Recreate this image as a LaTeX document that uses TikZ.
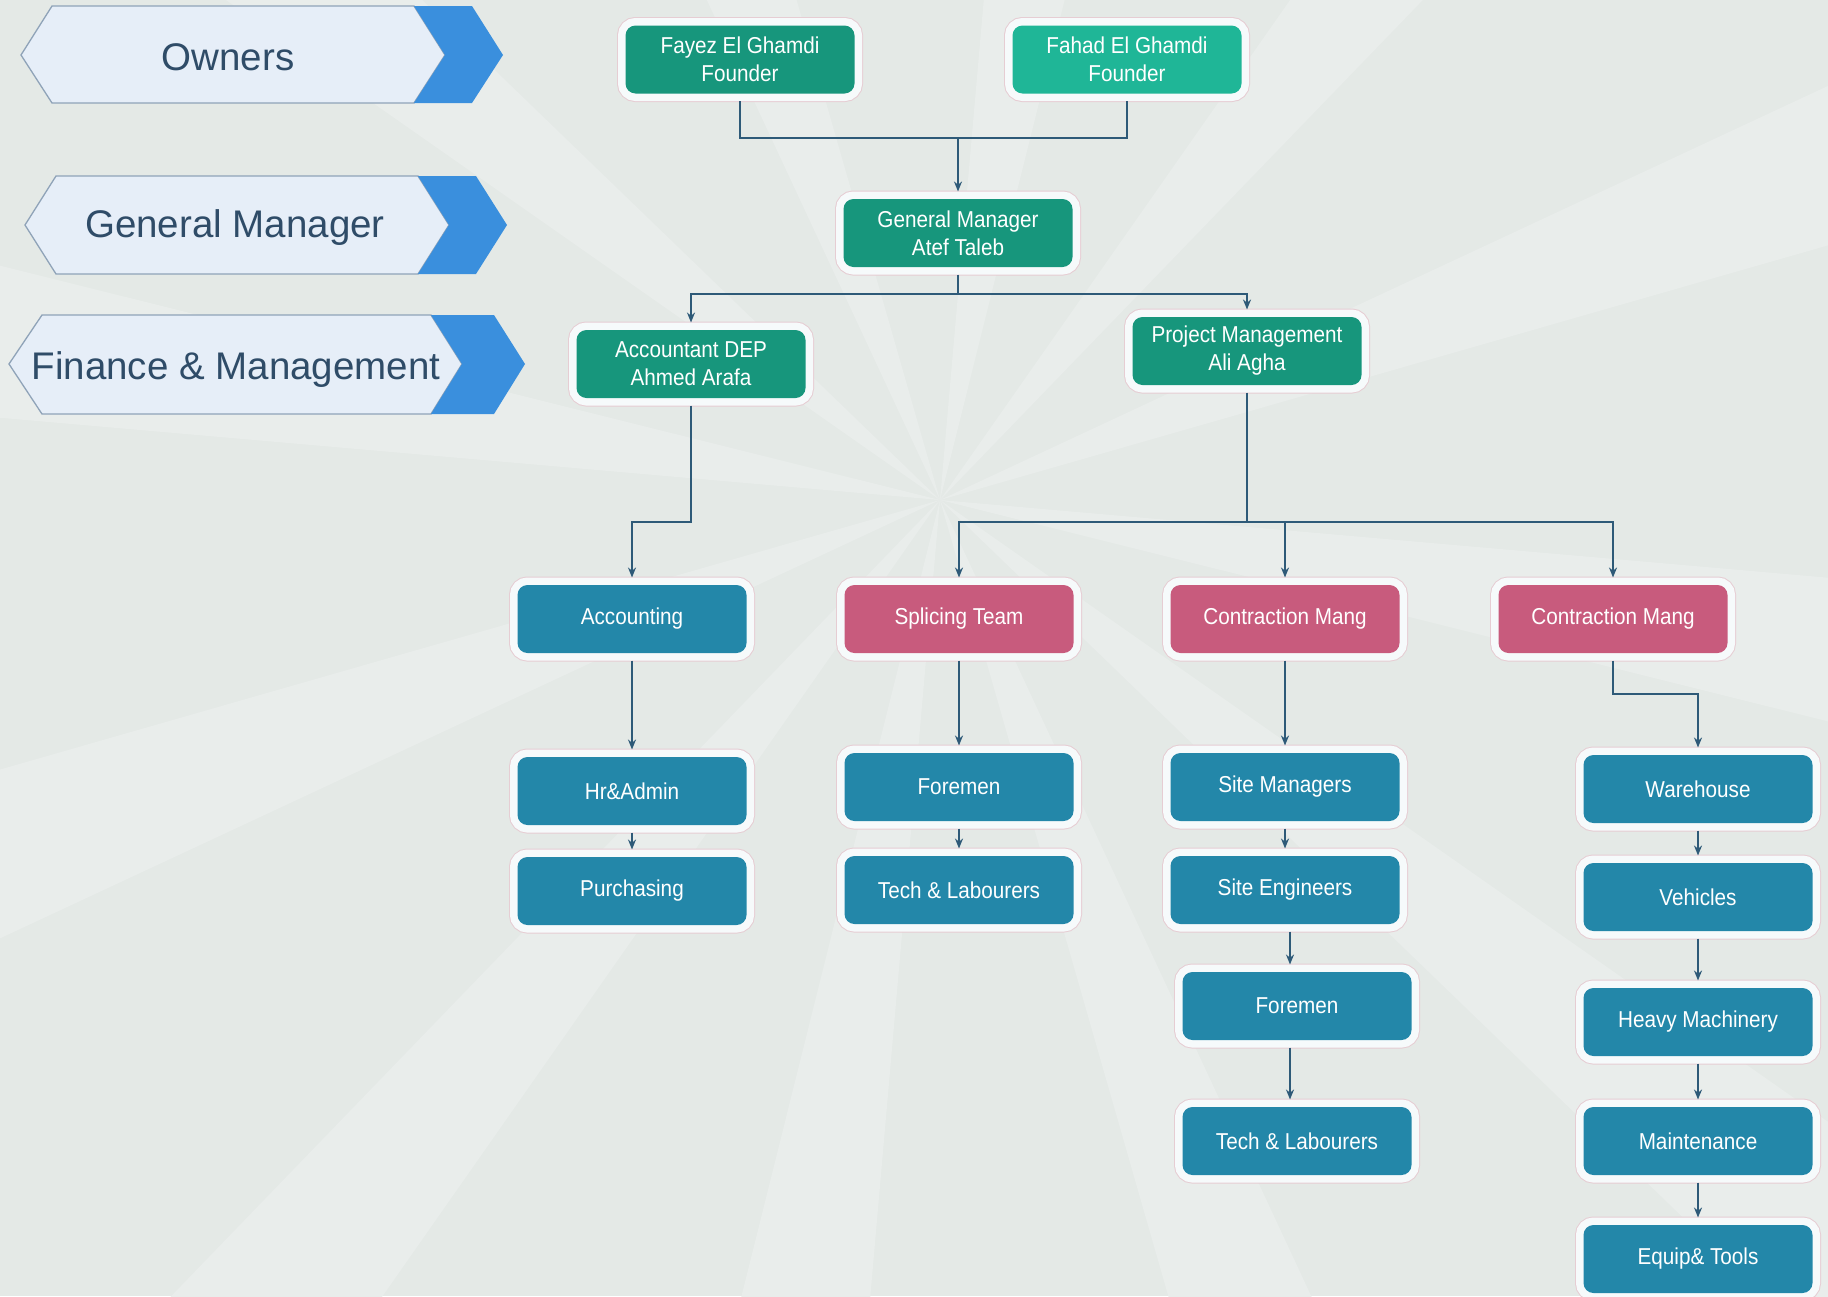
\documentclass[tikz,border=0pt]{standalone}
\usepackage{fontspec}
\setmainfont{Liberation Sans}
\newfontfamily\boxfont[FakeStretch=0.9]{Liberation Sans}
\usetikzlibrary{arrows.meta}
\definecolor{bg}{HTML}{E4E9E6}
\definecolor{ray}{HTML}{E9EDEB}
\definecolor{tealdk}{HTML}{17967C}
\definecolor{teallt}{HTML}{1FB697}
\definecolor{bluebox}{HTML}{2387A9}
\definecolor{pinkbox}{HTML}{C85B7D}
\definecolor{halo}{HTML}{F6FAFB}
\definecolor{haloedge}{HTML}{E6CDD3}
\definecolor{conn}{HTML}{2E5A78}
\definecolor{chevfill}{HTML}{E6EEF8}
\definecolor{chevedge}{HTML}{8FA3B8}
\definecolor{chevblue}{HTML}{3A8FDD}
\definecolor{chevtext}{HTML}{2F4C68}
\begin{document}
\begin{tikzpicture}[x=1pt,y=-1pt,
  orgbox/.style={rectangle, rounded corners=10pt, minimum width=229pt, minimum height=68pt,
    inner sep=0pt, outer sep=7.5pt, align=center, text=white,
    font=\boxfont\fontsize{23}{28}\selectfont,
    preaction={draw=haloedge, line width=17pt},
    preaction={draw=halo, line width=15pt}},
  tealA/.style={orgbox, fill=tealdk},
  tealB/.style={orgbox, fill=teallt},
  blu/.style={orgbox, fill=bluebox},
  pnk/.style={orgbox, fill=pinkbox},
  line/.style={draw=conn, line width=2pt},
  arr/.style={line, -{Stealth[length=10pt,width=8pt]}},
  chevlabel/.style={anchor=base, text=chevtext, font=\fontsize{38.5}{40}\selectfont, inner sep=0pt},
  chevlight/.style={fill=chevfill, draw=chevedge, line width=1.3pt},
  chevdark/.style={fill=chevblue}
]
\useasboundingbox (0,0) rectangle (1828,1296);
\fill[bg] (0,0) rectangle (1828,1296);
\begin{scope}
\clip (0,0) rectangle (1828,1296);
\foreach \a in {5,35,...,335} {
  \fill[ray] (940,500) -- +(\a:2600) -- +(\a+9:2600) -- cycle;
}
\end{scope}

% chevrons
\path[chevlight] (52,6) -- (414,6) -- (445,55) -- (414,103) -- (52,103) -- (21,55) -- cycle;
\path[chevdark] (414,6) -- (472,6) -- (503,55) -- (472,103) -- (414,103) -- (445,55) -- cycle;
\node[chevlabel] (owners) at (228,70) {Owners};

\path[chevlight] (56,176) -- (418,176) -- (449,225) -- (418,274) -- (56,274) -- (25,225) -- cycle;
\path[chevdark] (418,176) -- (476,176) -- (507,225) -- (476,274) -- (418,274) -- (449,225) -- cycle;
\node[chevlabel] (gmlabel) at (235,237) {General Manager};

\path[chevlight] (42,315) -- (431,315) -- (462,364) -- (431,414) -- (42,414) -- (9,364) -- cycle;
\path[chevdark] (431,315) -- (494,315) -- (525,364) -- (494,414) -- (431,414) -- (462,364) -- cycle;
\node[chevlabel] (fmlabel) at (236,379) {Finance \& Management};

% org nodes
\node[tealA] (fayez) at (740,59.5) {Fayez El Ghamdi\\Founder};
\node[tealB] (fahad) at (1127,59.5) {Fahad El Ghamdi\\Founder};
\node[tealA] (gm) at (958,233) {General Manager\\Atef Taleb};
\node[tealA] (acct) at (691,364) {Accountant DEP\\Ahmed Arafa};
\node[tealA] (proj) at (1247,351) {Project Management\\Ali Agha};

\node[blu] (accounting) at (632,619) {Accounting};
\node[pnk] (splice) at (959,619) {Splicing Team};
\node[pnk] (cm1) at (1285,619) {Contraction Mang};
\node[pnk] (cm2) at (1613,619) {Contraction Mang};

\node[blu] (hr) at (632,791) {Hr\&Admin};
\node[blu] (purch) at (632,891) {Purchasing};
\node[blu] (fore1) at (959,787) {Foremen};
\node[blu] (tech1) at (959,890) {Tech \& Labourers};
\node[blu] (sitem) at (1285,787) {Site Managers};
\node[blu] (sitee) at (1285,890) {Site Engineers};
\node[blu] (fore2) at (1297,1006) {Foremen};
\node[blu] (tech2) at (1297,1141) {Tech \& Labourers};
\node[blu] (wh) at (1698,789) {Warehouse};
\node[blu] (veh) at (1698,897) {Vehicles};
\node[blu] (heavy) at (1698,1022) {Heavy Machinery};
\node[blu] (maint) at (1698,1141) {Maintenance};
\node[blu] (equip) at (1698,1259) {Equip\& Tools};

% connectors
\coordinate (j1) at (958,138);
\draw[line] (fayez.south) -- (fayez.south |- j1) -- (fahad.south |- j1) -- (fahad.south);
\draw[arr] (j1) -- (gm.north);

\coordinate (j2) at (958,294);
\draw[line] (gm.south) -- (j2);
\draw[arr] (j2) -| (acct.north);
\draw[arr] (j2) -| (proj.north);

\coordinate (j3) at (691,522);
\draw[arr] (acct.south) -- (j3) -| (accounting.north);

\coordinate (j4) at (1247,522);
\draw[line] (proj.south) -- (j4);
\draw[arr] (j4) -| (splice.north);
\draw[arr] (j4) -| (cm1.north);
\draw[arr] (j4) -| (cm2.north);

\draw[arr] (accounting.south) -- (hr.north);
\draw[arr] (hr.south) -- (purch.north);
\draw[arr] (splice.south) -- (fore1.north);
\draw[arr] (fore1.south) -- (tech1.north);
\draw[arr] (cm1.south) -- (sitem.north);
\draw[arr] (sitem.south) -- (sitee.north);
\draw[arr] (sitee.south -| 1290,0) -- (fore2.north -| 1290,0);
\draw[arr] (fore2.south -| 1290,0) -- (tech2.north -| 1290,0);

\coordinate (j5) at (1613,694);
\draw[arr] (cm2.south) -- (j5) -| (wh.north);
\draw[arr] (wh.south) -- (veh.north);
\draw[arr] (veh.south) -- (heavy.north);
\draw[arr] (heavy.south) -- (maint.north);
\draw[arr] (maint.south) -- (equip.north);
\end{tikzpicture}
\end{document}
